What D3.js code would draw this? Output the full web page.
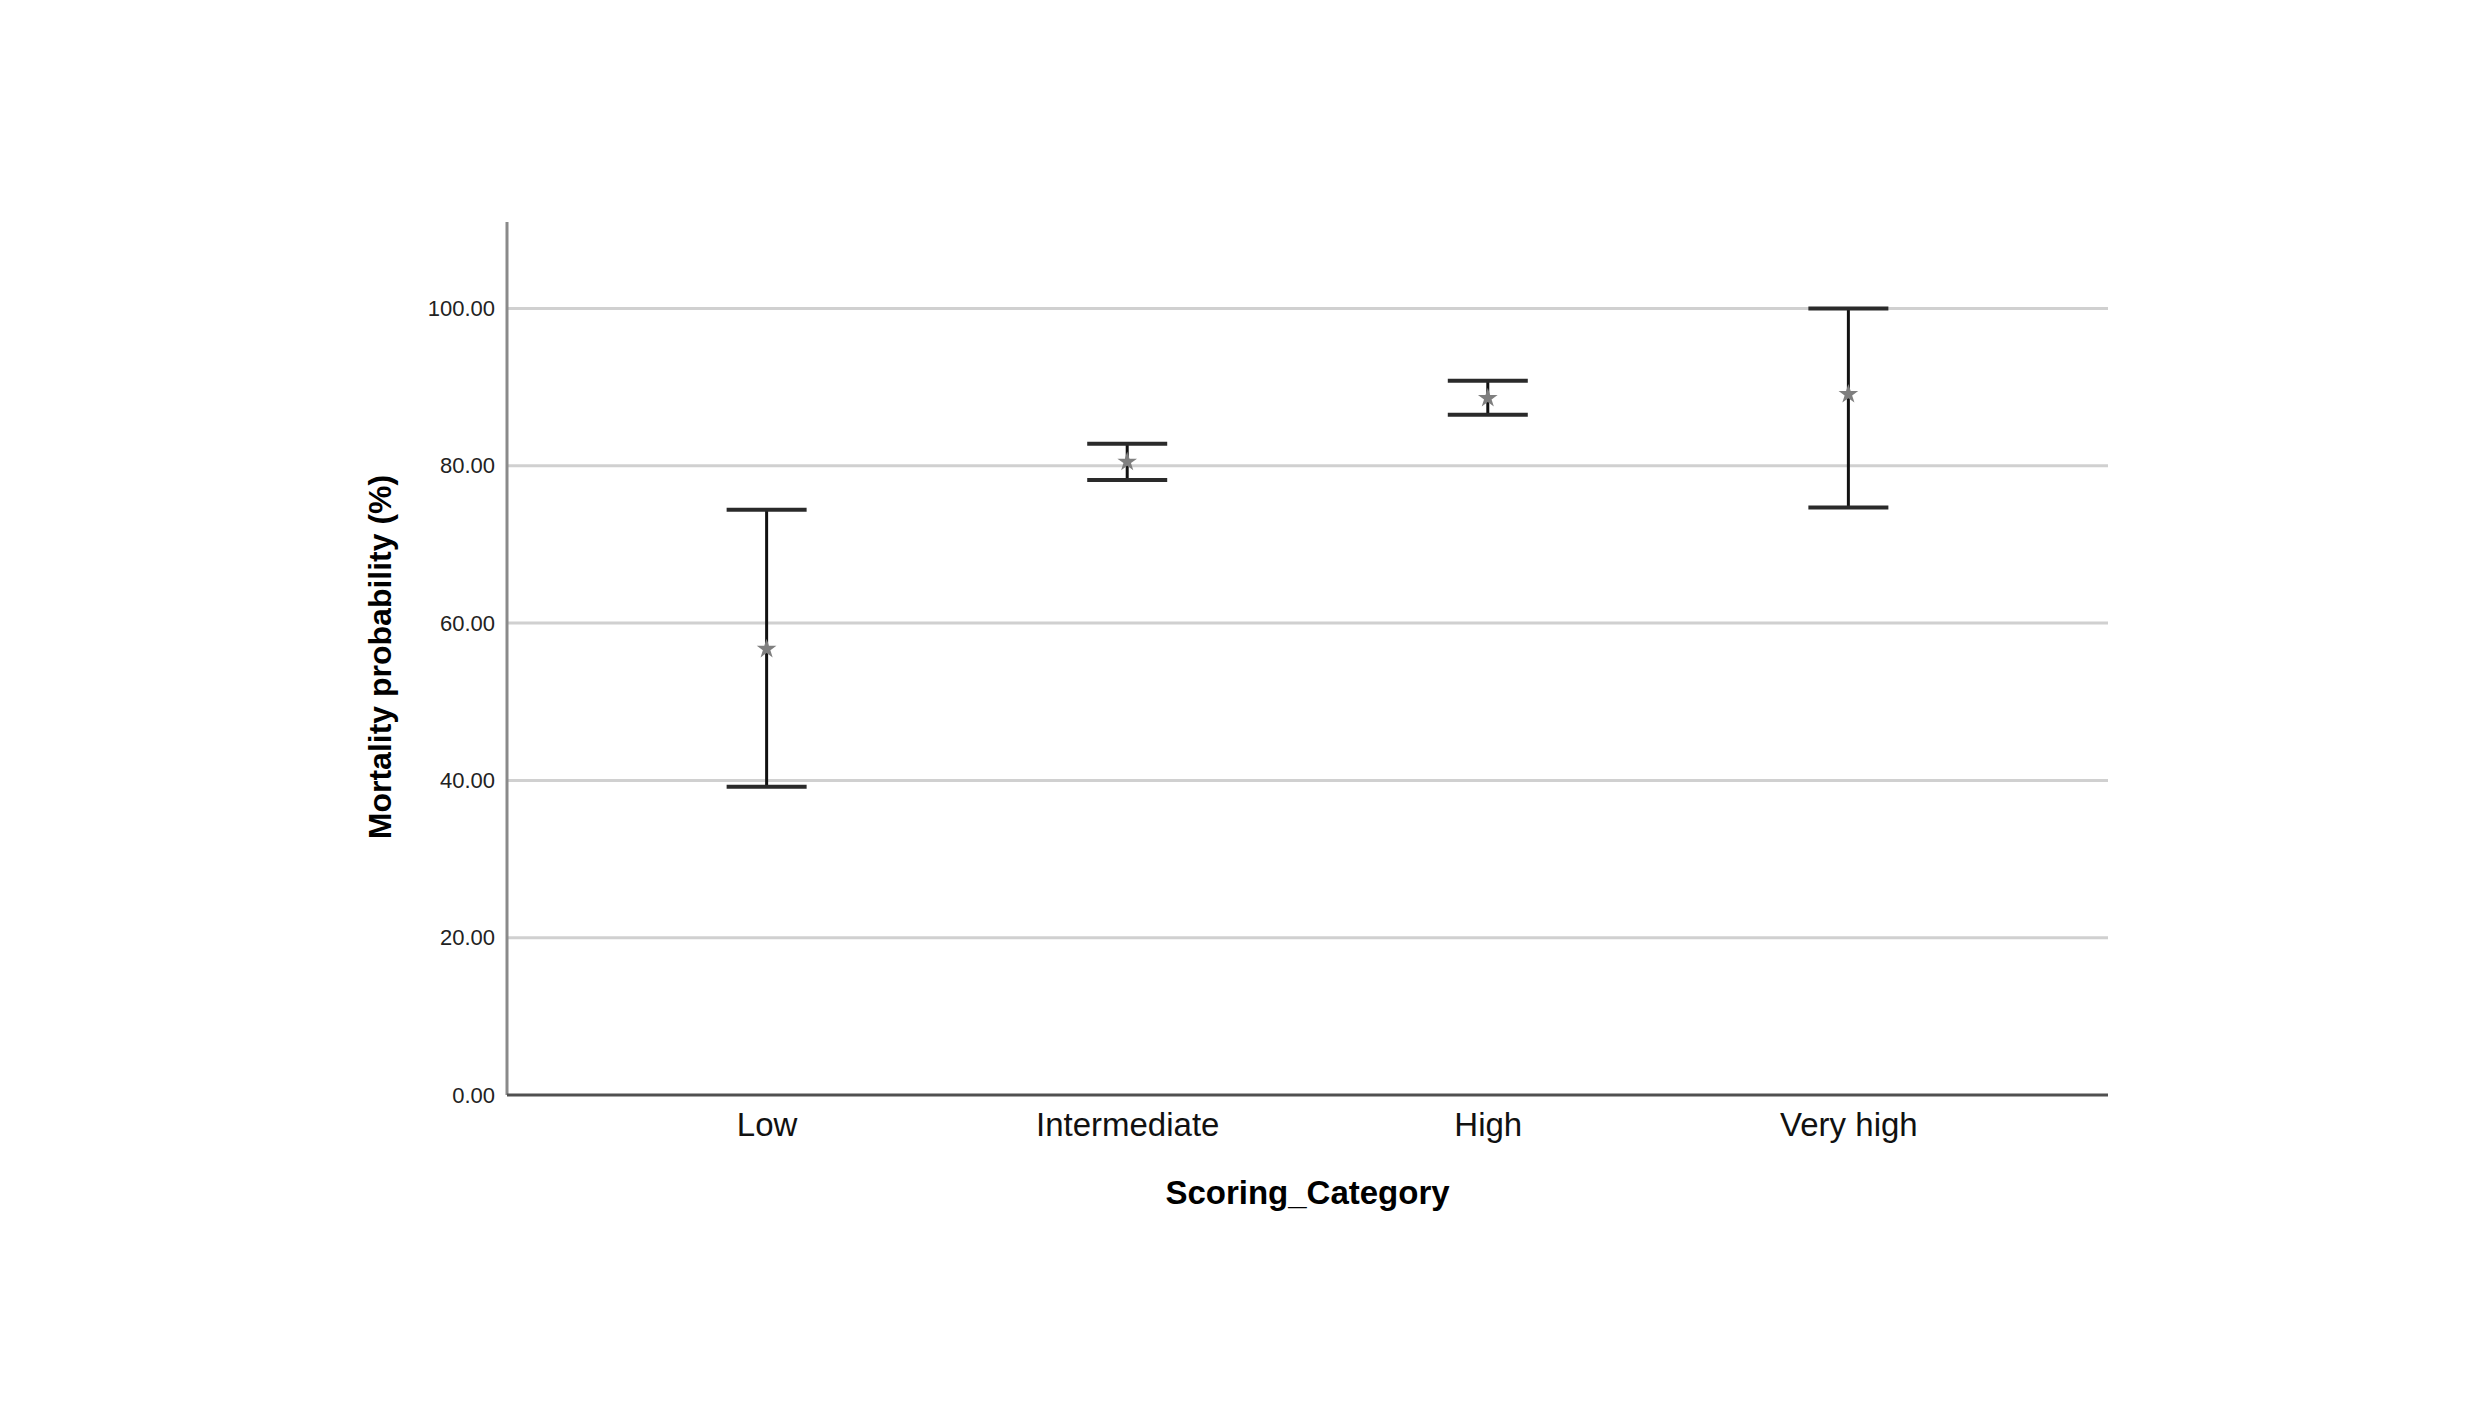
<!DOCTYPE html>
<html>
<head>
<meta charset="utf-8">
<script src="https://cdn.jsdelivr.net/npm/d3@7"></script>
<style>
  body { margin: 0; background: #fff; }
  svg { font-family: "Liberation Sans", Arial, sans-serif; }
</style>
</head>
<body>
<div class="svg-container"></div>
<script>
// data
const categories = ["Low", "Intermediate", "High", "Very high"];
const means = [56.7, 80.5, 88.6, 89.1];
const lower = [39.2, 78.2, 86.5, 74.7];
const upper = [74.4, 82.8, 90.8, 100.0];
const yTicks = [0, 20, 40, 60, 80, 100];

const width = 2480, height = 1417;
const plot = { left: 507, right: 2108, top: 222, bottom: 1095 };

const svg = d3.select(".svg-container")
  .append("svg")
  .attr("width", width)
  .attr("height", height);

// X SCALE - categories
const xScale = d3.scalePoint()
  .domain(categories)
  .range([plot.left, plot.right])
  .padding(0.72);

// Y SCALE
const yScale = d3.scaleLinear()
  .domain([0, 111])
  .range([plot.bottom, plot.top]);

// gridlines
svg.append("g")
  .selectAll("line")
  .data(yTicks.filter(t => t > 0))
  .enter()
  .append("line")
  .attr("x1", plot.left)
  .attr("x2", plot.right)
  .attr("y1", d => yScale(d))
  .attr("y2", d => yScale(d))
  .style("stroke", "#d0d0d0")
  .style("stroke-width", 3);

// y axis
const yAxis = d3.axisLeft(yScale)
  .tickValues(yTicks)
  .tickFormat(d3.format(".2f"))
  .tickSize(0)
  .tickPadding(12);

const gy = svg.append("g")
  .attr("transform", "translate(" + plot.left + ",0)")
  .call(yAxis);
gy.select(".domain")
  .attr("d", "M0," + plot.top + "V" + plot.bottom)
  .style("stroke", "#8a8a8a")
  .style("stroke-width", 3);
gy.selectAll("text")
  .style("font-size", "22px")
  .style("fill", "#222");

// x axis
const xAxis = d3.axisBottom(xScale)
  .tickSize(0)
  .tickPadding(18);

const gx = svg.append("g")
  .attr("transform", "translate(0," + plot.bottom + ")")
  .call(xAxis);
gx.select(".domain")
  .attr("d", "M" + plot.left + ",0H" + plot.right)
  .style("stroke", "#505050")
  .style("stroke-width", 3);
gx.selectAll("text")
  .style("font-size", "33px")
  .style("fill", "#111");

// axis titles
svg.append("text")
  .attr("x", (plot.left + plot.right) / 2)
  .attr("y", 1204)
  .attr("text-anchor", "middle")
  .style("font-size", "33px")
  .style("font-weight", "bold")
  .text("Scoring_Category");

svg.append("text")
  .attr("transform", "translate(391," + 657 + ") rotate(-90)")
  .attr("text-anchor", "middle")
  .style("font-size", "32px")
  .style("font-weight", "bold")
  .text("Mortality probability (%)");

// ERROR BARS
const bars = svg.append("g")
  .selectAll("g")
  .data(categories)
  .enter()
  .append("g");

bars.append("line")
  .attr("x1", d => xScale(d))
  .attr("x2", d => xScale(d))
  .attr("y1", (d, i) => yScale(lower[i]))
  .attr("y2", (d, i) => yScale(upper[i]))
  .style("stroke", "#111")
  .style("stroke-width", 3);

const capHalf = 40;
[lower, upper].forEach(arr => {
  bars.append("line")
    .attr("x1", d => xScale(d) - capHalf)
    .attr("x2", d => xScale(d) + capHalf)
    .attr("y1", (d, i) => yScale(arr[i]))
    .attr("y2", (d, i) => yScale(arr[i]))
    .style("stroke", "#2a2a2a")
    .style("stroke-width", 4);
});

// mean markers
bars.append("path")
  .attr("transform", (d, i) => "translate(" + xScale(d) + "," + yScale(means[i]) + ")")
  .attr("d", d3.symbol().type(d3.symbolStar).size(120))
  .style("fill", "#7f7f7f");
</script>
</body>
</html>
